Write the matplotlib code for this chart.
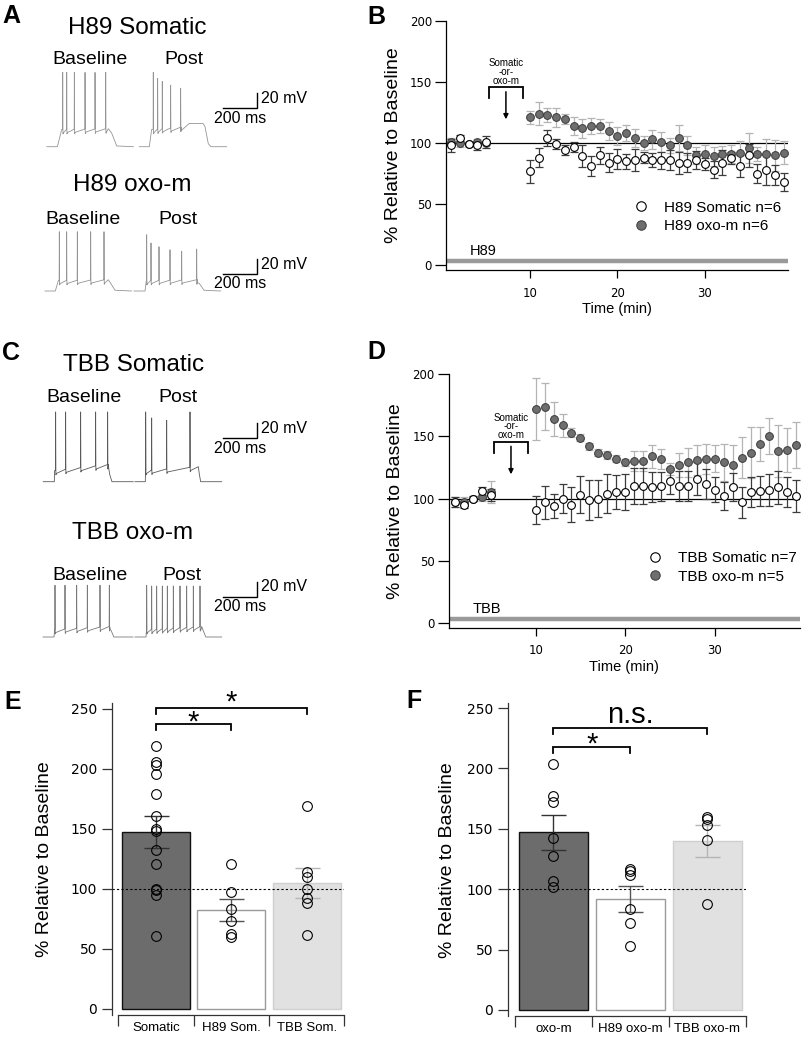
import numpy as np
import matplotlib
matplotlib.use("Agg")
import matplotlib.pyplot as plt
from matplotlib.lines import Line2D

plt.rcParams['font.family'] = ['Liberation Sans', 'DejaVu Sans']

W, H = 810, 1040
MS_PER_PX = 6.0      # 200 ms scale bar = 33.4 px
MV_PER_PX = 1.333    # 20 mV scale bar = 15 px

# ---------------- time course data (B, D) ----------------
t_min = [1, 2, 3, 4, 5] + list(range(10, 40))

b_som = [98, 104, 99, 98, 101,
         77, 88, 104, 99, 94, 97, 89, 81, 90, 84, 87, 85, 86, 88, 86,
         86, 86, 84, 84, 86, 83, 78, 84, 88, 81, 90, 75, 78, 74, 68]
b_som_err = [5, 2.5, 1.5, 4, 5,
             9.4, 7.8, 6.8, 4, 4, 4, 9, 8, 7, 8, 8, 6, 9, 4.5, 6,
             7, 8, 9, 7.5, 7.5, 5, 7, 10, 5, 9, 9.5, 8, 12, 8, 7.5]
b_oxo = [101, 100, 99, 101, 100,
         121, 124, 123, 121, 120, 114, 112, 114, 114, 110, 106, 108, 104, 100, 103,
         101, 98, 104, 98, 90, 91, 89, 91, 91, 92, 96, 91, 91, 90, 92]
b_oxo_err = [3, 3, 2, 2, 2,
             5, 9.5, 5.5, 7.5, 4, 7, 7.5, 6.5, 6, 7.5, 7.5, 6.7, 7.5, 6, 7.5,
             8, 6.5, 10.5, 8, 7, 7, 7.5, 6.5, 7.5, 10, 12, 6, 12, 12.5, 9.5]

d_som = [97, 95, 100, 106, 103,
         91, 97, 94, 100, 95, 103, 99, 100, 104, 105, 105, 110, 110, 109, 110,
         114, 110, 110, 116, 112, 107, 102, 109, 97, 105, 106, 107, 109, 105, 102]
d_som_err = [4, 3, 2, 3, 5,
             11.4, 13.4, 10, 12, 14, 14.8, 16, 15, 15.4, 13.8, 14.5, 14.5, 14.2, 12, 11.7,
             10.7, 12, 12, 13.4, 12, 10, 11.4, 11.4, 12.5, 12, 12, 12.7, 13.4, 12, 12.7]
d_oxo = [97, 97, 100, 101, 105,
         172, 174, 164, 159, 153, 149, 142, 137, 135, 132, 129, 130, 130, 134, 132,
         124, 127, 129, 131, 132, 132, 129, 127, 133, 137, 144, 150, 138, 139, 143]
d_oxo_err = [4, 4, 2, 3, 8.7,
             24.7, 19, 14, 9.4, 3.4, 3, 3, 3, 3, 3, 3, 8, 8, 9.4, 8,
             4.7, 9.4, 12, 12, 12, 10.7, 14.8, 16, 16.8, 20.8, 13.4, 14.5, 20.8, 17.4, 18.8]

# ---------------- summary data (E, F) ----------------
e_cats = ['Somatic', 'H89 Som.', 'TBB Som.']
e_means = [147.5, 82.5, 105]
e_sem = [13.2, 9.4, 12.4]
e_pts = [[219, 205.5, 203.5, 196, 179, 160.5, 150, 148.5, 132, 121, 100, 99, 95, 61],
         [120.5, 97, 83.5, 73, 62.5, 60],
         [169, 114, 110, 99.5, 92.5, 88.5, 62]]

f_cats = ['oxo-m', 'H89 oxo-m', 'TBB oxo-m']
f_means = [147, 92, 140]
f_sem = [14.5, 10.8, 13.5]
f_pts = [[204, 177, 172, 142.5, 127.5, 107, 102],
         [116.5, 115, 112, 84, 72, 53],
         [160, 158.5, 153.5, 141, 87.5]]

# ---------------- example traces (ms, mV) ----------------
# knots of the sub-threshold waveform, spike times and spike peaks
a1_base_kt = [0, 64, 90, 370, 390, 420, 520]
a1_base_kv = [-70, -70, -47, -46, -52, -69, -70]
a1_base_st = [96, 120, 166, 230, 290, 354]
a1_base_sv = [29, 29, 29, 29, 29, 29]
a1_post_kt = [0, 60, 74, 250, 300, 382, 394, 414, 430, 524]
a1_post_kv = [-70, -70, -47, -44, -39, -39, -43, -66, -70, -70]
a1_post_st = [84, 110, 138, 188, 248]
a1_post_sv = [29, 21, 17, 12, 8]

a2_base_kt = [0, 62, 80, 380, 395, 420, 520]
a2_base_kv = [-70, -70, -56, -55, -60, -69, -70]
a2_base_st = [86, 130, 194, 274, 354]
a2_base_sv = [9, 9, 9, 9, 9]
a2_post_kt = [0, 66, 74, 380, 392, 420, 520]
a2_post_kv = [-70, -70, -56, -55, -60, -69, -70]
a2_post_st = [76, 102, 150, 216, 286, 376]
a2_post_sv = [5, -6, -11, -15, -17, -14]

c1_base_kt = [0, 66, 68, 390, 398, 412, 540]
c1_base_kv = [-70, -70, -55, -47, -60, -70, -70]
c1_base_st = [74, 134, 224, 314, 386]
c1_base_sv = [23, 23, 23, 23, 23]
c1_post_kt = [0, 62, 64, 380, 386, 394, 520]
c1_post_kv = [-70, -70, -55, -50, -60, -70, -70]
c1_post_st = [64, 100, 190, 330]
c1_post_sv = [23, 15, 12, 23]

c2_base_kt = [0, 66, 70, 400, 410, 425, 540]
c2_base_kv = [-70, -70, -60, -56, -62, -70, -70]
c2_base_st = [72, 132, 202, 266, 342, 398]
c2_base_sv = [-1, -1, -1, -1, -1, -1]
c2_post_kt = [0, 66, 70, 400, 410, 425, 520]
c2_post_kv = [-70, -70, -60, -56, -62, -70, -70]
c2_post_st = [70, 100, 130, 164, 194, 230, 270, 310, 350, 390]
c2_post_sv = [-1, -2, -2, -2, -2, -2, -2, -2, -2, -2]

fig = plt.figure(figsize=(W / 100, H / 100), dpi=100)


def px_axes(x0, y0, x1, y1):
    return fig.add_axes([x0 / W, 1 - y1 / H, (x1 - x0) / W, (y1 - y0) / H])


def ftext(x, y, s, **kw):
    kw.setdefault('ha', 'center')
    kw.setdefault('va', 'center')
    fig.text(x / W, 1 - y / H, s, **kw)


def build_trace(kt, kv, st, sv):
    t = list(kt)
    v = list(kv)
    for ts, vp in zip(st, sv):
        vb = np.interp(ts, kt, kv)
        t += [ts - 1.0, ts, ts + 1.5, ts + 6]
        v += [vb, vp, vb - 6, vb - 4]
    order = np.argsort(t, kind='stable')
    return np.array(t)[order], np.array(v)[order]


def trace_row(x0, rest_py, post_px, bar_py, base, post, color):
    ax = px_axes(40, rest_py - 95, 330, rest_py + 12)
    ax.set_xlim((40 - x0) * MS_PER_PX, (330 - x0) * MS_PER_PX)
    ax.set_ylim(-70 - 12 * MV_PER_PX, -70 + 95 * MV_PER_PX)
    ax.axis('off')
    t, v = build_trace(*base)
    ax.plot(t, v, color=color, lw=0.6)
    t, v = build_trace(*post)
    ax.plot(t + (post_px - x0) * MS_PER_PX, v, color=color, lw=0.6)
    # scale bar 200 ms / 20 mV
    sx = (223.3 - x0) * MS_PER_PX
    sy = -70 + (rest_py - bar_py) * MV_PER_PX
    ax.plot([sx, sx + 200, sx + 200], [sy, sy, sy + 20], color='k', lw=1.0,
            solid_joinstyle='miter')
    ax.text(sx + 228, sy + 13, '20 mV', fontsize=11.5, ha='left', va='center')
    ax.text(sx + 100, sy - 3, '200 ms', fontsize=11.5, ha='center', va='top')


trace_row(46.7, 146.7, 139.3, 108.3,
          (a1_base_kt, a1_base_kv, a1_base_st, a1_base_sv),
          (a1_post_kt, a1_post_kv, a1_post_st, a1_post_sv), '#959595')
trace_row(45, 291, 134, 274,
          (a2_base_kt, a2_base_kv, a2_base_st, a2_base_sv),
          (a2_post_kt, a2_post_kv, a2_post_st, a2_post_sv), '#959595')
trace_row(43.3, 481.7, 135, 438.3,
          (c1_base_kt, c1_base_kv, c1_base_st, c1_base_sv),
          (c1_post_kt, c1_post_kv, c1_post_st, c1_post_sv), '#5a5a5a')
trace_row(43, 637, 135, 596.7,
          (c2_base_kt, c2_base_kv, c2_base_st, c2_base_sv),
          (c2_post_kt, c2_post_kv, c2_post_st, c2_post_sv), '#7a7a7a')

for (x, y, s) in [(137, 28, 'H89 Somatic'), (132.5, 185, 'H89 oxo-m'),
                  (134, 365, 'TBB Somatic'), (132.5, 533, 'TBB oxo-m')]:
    ftext(x, y, s, fontsize=17.5)
for (x, y) in [(89.5, 59), (83.3, 220), (84, 397), (89.7, 575)]:
    ftext(x, y, 'Baseline', fontsize=14)
for (x, y) in [(183.7, 59), (177.5, 220), (178, 397), (181.7, 575)]:
    ftext(x, y, 'Post', fontsize=14)

for (x, y, s) in [(11, 16, 'A'), (376, 17, 'B'), (11, 353, 'C'), (376, 352, 'D'),
                  (12.5, 702, 'E'), (414, 701, 'F')]:
    ftext(x, y, s, fontsize=18, fontweight='bold')


# ---------------- time course panels ----------------
def time_panel(rect, xlim, som, som_err, oxo, oxo_err, drug, labels, leg_anchor):
    ax = px_axes(*rect)
    ax.axhline(100, color='k', lw=0.9, zorder=1)
    ax.plot([xlim[0], 39.5], [3, 3], color='#9a9a9a', lw=3.2, solid_capstyle='butt',
            zorder=1)
    ax.text(4.6, 5.5, drug, fontsize=10.5, ha='center', va='bottom')
    ax.errorbar(t_min, oxo, yerr=oxo_err, fmt='none', ecolor='#b4b4b4', elinewidth=0.9,
                capsize=3, capthick=0.9, zorder=2)
    ax.errorbar(t_min, som, yerr=som_err, fmt='none', ecolor='#3c3c3c', elinewidth=0.9,
                capsize=3, capthick=0.9, zorder=3)
    ax.plot(t_min, oxo, 'o', ms=5.6, mfc='#6e6e6e', mec='#3a3a3a', mew=0.7, zorder=4)
    ax.plot(t_min, som, 'o', ms=5.6, mfc='white', mec='k', mew=0.8, zorder=5)
    # application bracket
    ax.plot([5.3, 5.3, 9.2, 9.2], [137, 145.7, 145.7, 137], color='k', lw=1.3,
            solid_joinstyle='miter')
    ax.annotate('', xy=(7.25, 119.5), xytext=(7.25, 142),
                arrowprops=dict(arrowstyle='-|>', color='k', lw=1.1, mutation_scale=7,
                                shrinkA=0, shrinkB=0))
    ax.text(7.3, 158, 'Somatic\n-or-\noxo-m', fontsize=7, ha='center', va='center',
            linespacing=0.85)
    ax.set_xlim(*xlim)
    ax.set_ylim(-4, 200)
    ax.set_xticks([10, 20, 30])
    ax.set_yticks([0, 50, 100, 150, 200])
    for sp in ['top', 'right']:
        ax.spines[sp].set_visible(False)
    ax.spines['left'].set_linewidth(0.9)
    ax.spines['bottom'].set_linewidth(0.9)
    ax.tick_params(axis='y', length=8, width=0.9, pad=2)
    ax.tick_params(axis='x', length=6, width=0.9, pad=6)
    for lbl in ax.get_xticklabels() + ax.get_yticklabels():
        lbl.set_family('DejaVu Sans')
        lbl.set_fontsize(8.5)
    ax.set_xlabel('Time (min)', fontsize=10.5, labelpad=2)
    ax.set_ylabel('% Relative to Baseline', fontsize=14, labelpad=6)
    handles = [Line2D([], [], marker='o', ls='none', ms=6.8, mfc='white', mec='k', mew=0.8),
               Line2D([], [], marker='o', ls='none', ms=6.8, mfc='#6e6e6e', mec='#3a3a3a',
                      mew=0.7)]
    ax.legend(handles, labels, loc='upper left', bbox_to_anchor=leg_anchor, frameon=False,
              fontsize=11, handlelength=0.8, handletextpad=1.1, labelspacing=0.3,
              borderpad=0, borderaxespad=0)
    return ax


ax_b = time_panel((446, 21, 788, 270), (0.4, 39.5), b_som, b_som_err, b_oxo, b_oxo_err,
                  'H89', ['H89 Somatic n=6', 'H89 oxo-m n=6'], (0.552, 0.278))
ax_d = time_panel((448.7, 374.3, 800, 627.7), (0.3, 39.5), d_som, d_som_err, d_oxo,
                  d_oxo_err, 'TBB', ['TBB Somatic n=7', 'TBB oxo-m n=5'], (0.57, 0.303))


# ---------------- summary bar panels ----------------
def bar_panel(rect, xlim, ylim, cats, means, sem, pts, ylpad):
    ax = px_axes(*rect)
    x = np.arange(len(cats))
    faces = ['#6c6c6c', 'white', '#e1e1e1']
    edges = ['#111111', '#9a9a9a', '#cfcfcf']
    ecols = ['#333333', '#555555', '#b5b5b5']
    ax.bar(x, means, width=0.9, color=faces, edgecolor=edges, linewidth=1.0, zorder=1)
    ax.axhline(100, color='k', lw=0.8, ls=(0, (2, 2)), zorder=2)
    for i in range(len(cats)):
        ax.errorbar(x[i], means[i], yerr=sem[i], fmt='none', ecolor=ecols[i],
                    elinewidth=1.0, capsize=9, capthick=1.0, zorder=3)
        ax.plot([x[i]] * len(pts[i]), pts[i], 'o', ms=7, mfc='none', mec='k', mew=0.8,
                zorder=4)
    ax.set_xlim(*xlim)
    ax.set_ylim(*ylim)
    ax.set_yticks([0, 50, 100, 150, 200, 250])
    ax.set_xticks([-0.5, 0.5, 1.5, 2.5])
    ax.set_xticklabels([])
    ax.set_xticks(x, minor=True)
    ax.set_xticklabels(cats, minor=True, fontsize=9.5)
    ax.tick_params(axis='x', which='major', length=8, width=0.9, color='#333333')
    ax.tick_params(axis='x', which='minor', length=0, pad=5)
    ax.tick_params(axis='y', length=7, width=0.9, color='#333333', pad=4)
    for lbl in ax.get_yticklabels():
        lbl.set_family('DejaVu Sans')
        lbl.set_fontsize(10)
    for sp in ['top', 'right']:
        ax.spines[sp].set_visible(False)
    ax.spines['left'].set_color('#333333')
    ax.spines['bottom'].set_color('#333333')
    ax.spines['left'].set_linewidth(0.9)
    ax.spines['bottom'].set_linewidth(0.9)
    ax.spines['bottom'].set_bounds(-0.5, 2.5)
    ax.set_ylabel('% Relative to Baseline', fontsize=14, labelpad=ylpad)
    return ax


def bracket(ax, x0, x1, y, drop, label, fs, dy):
    ax.plot([x0, x0, x1, x1], [y - drop, y, y, y - drop], color='k', lw=1.3,
            clip_on=False, solid_joinstyle='miter')
    ax.text((x0 + x1) / 2, y + dy, label, fontsize=fs, ha='center', va='baseline',
            clip_on=False)


ax_e = bar_panel((112.3, 702.7, 344.3, 1015), (-0.58, 2.5), (-5, 255),
                 e_cats, e_means, e_sem, e_pts, 13)
bracket(ax_e, 0, 1, 237.5, 5.5, '*', 21, -6)
bracket(ax_e, 0, 2, 250.6, 5, '*', 21, -2)

ax_f = bar_panel((508.3, 703.3, 745.7, 1016), (-0.587, 2.5), (-5, 254),
                 f_cats, f_means, f_sem, f_pts, 8)
bracket(ax_f, 0, 1, 218, 5, '*', 21, -5)
bracket(ax_f, 0, 2, 233.7, 5, 'n.s.', 21, 4)

fig.savefig('out.png', dpi=100)
